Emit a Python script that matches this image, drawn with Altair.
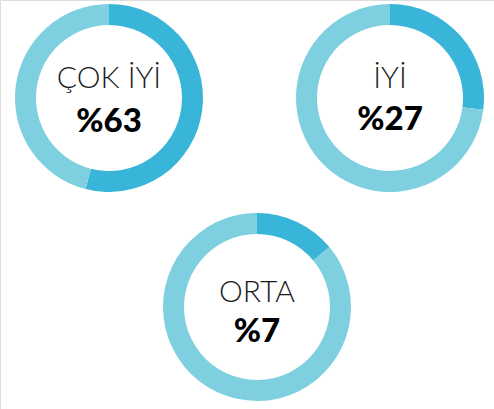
import altair as alt
import pandas as pd

# ---- data ----
labels = ["ÇOK İYİ", "İYİ", "ORTA"]
pct_values = [63, 27, 7]          # printed percentages
arc_filled = [54, 27, 14]         # share of ring drawn dark, as seen in the picture

DARK = "#38b5d8"
LIGHT = "#7ecfe0"

# ---- layout (pixels) ----
centers = [(109, 98), (390, 98), (257, 307)]
label_base = [88, 88, 302]
pct_base = [132, 130, 342]

rows = []
for lab, f in zip(labels, arc_filled):
    rows.append({"label": lab, "part": "filled", "value": f, "order": 0})
    rows.append({"label": lab, "part": "rest", "value": 100 - f, "order": 1})
arcs = pd.DataFrame(rows)
texts = pd.DataFrame({"label": labels, "pct": [f"%{v}" for v in pct_values]})

layers = []
for i, lab in enumerate(labels):
    cx, cy = centers[i]
    ring = (
        alt.Chart(arcs)
        .transform_filter(alt.datum.label == lab)
        .transform_stack(stack="value", groupby=["label"], as_=["start", "end"],
                         sort=[alt.SortField("order", order="ascending")])
        .mark_arc(innerRadius=73, outerRadius=94)
        .encode(
            theta=alt.Theta("start:Q", scale=alt.Scale(domain=[0, 100], range=[0, 6.283185307179586]), stack=None),
            theta2="end:Q",
            color=alt.Color("part:N", scale=alt.Scale(domain=["filled", "rest"], range=[DARK, LIGHT]), legend=None),
            x=alt.value(cx),
            y=alt.value(cy),
        )
    )
    name = (
        alt.Chart(texts)
        .transform_filter(alt.datum.label == lab)
        .mark_text(font="Lato", fontWeight=300, fontSize=30, baseline="alphabetic", align="center", color="#1a1a1a")
        .encode(text="label:N", x=alt.value(cx), y=alt.value(label_base[i]))
    )
    pct = (
        alt.Chart(texts)
        .transform_filter(alt.datum.label == lab)
        .mark_text(font="Lato", fontWeight=900, fontSize=33, baseline="alphabetic", align="center", color="#000000")
        .encode(text="pct:N", x=alt.value(cx), y=alt.value(pct_base[i]))
    )
    layers += [ring, name, pct]

chart = (
    alt.layer(*layers)
    .properties(width=494, height=409, padding=0, autosize=alt.AutoSizeParams(type="none"))
    .configure_view(stroke=None)
    .configure(background="white")
)

chart.save("out.html", embed_options={"renderer": "svg", "actions": False})
